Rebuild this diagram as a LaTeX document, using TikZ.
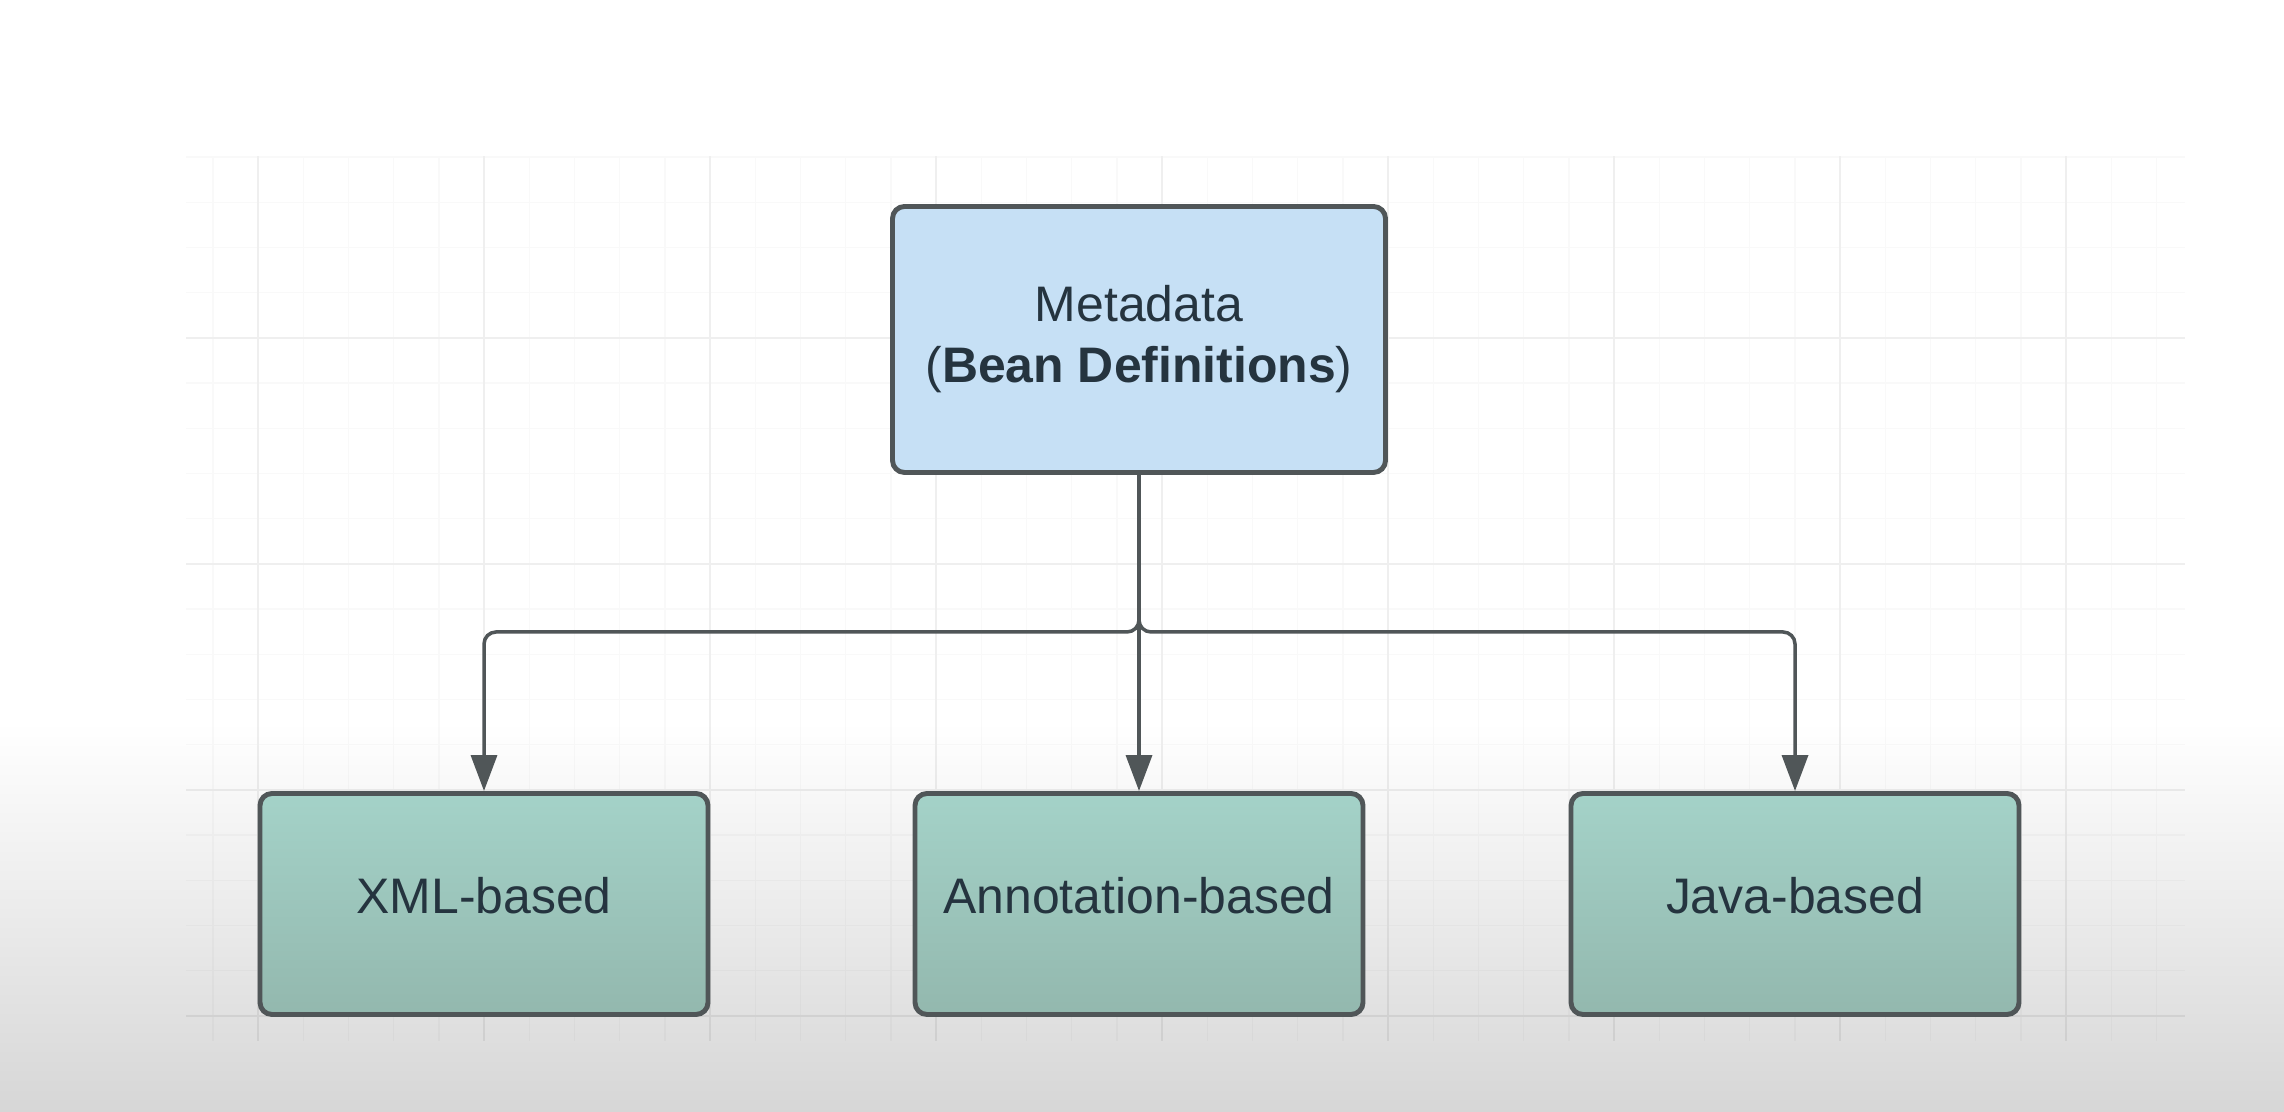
\documentclass[tikz,border=0pt]{standalone}
\usepackage{fontspec}
\setmainfont{Liberation Sans}
\usetikzlibrary{arrows.meta,backgrounds}

\definecolor{metablue}{HTML}{C6E0F5}
\definecolor{tealtop}{HTML}{A4D2C8}
\definecolor{tealbot}{HTML}{93B8AE}
\definecolor{edgegray}{HTML}{505658}
\definecolor{inkdark}{HTML}{25343F}

\tikzset{
  box/.style={draw=edgegray, line width=1.4pt, rounded corners=0.12cm, inner sep=0pt,
    text=inkdark, font=\fontsize{14.2}{17.3}\selectfont},
  metabox/.style={box, align=center, fill=metablue, minimum width=4.93cm, minimum height=2.66cm},
  kindbox/.style={box, top color=tealtop, bottom color=tealbot, text depth=0.18cm,
    minimum width=4.48cm, minimum height=2.21cm},
  link/.style={draw=edgegray, line width=1pt, rounded corners=0.12cm,
    -{Triangle[length=3.6mm,width=2.6mm]}},
}

\begin{document}
\begin{tikzpicture}
    \useasboundingbox (0,0) rectangle (22.84,11.12);
    \fill[white] (0,0) rectangle (22.84,11.12);
    \shade[top color=white, bottom color=black!16] (0,0) rectangle (22.84,3.9);

    % faint canvas grid
    \begin{scope}[shift={(2.58,0.96)}]
      \draw[black, opacity=0.025, line width=0.4pt, step=0.452] (-0.72,-0.25) grid (19.27,8.60);
      \draw[black, opacity=0.04, line width=0.6pt, step=2.26] (-0.72,-0.25) grid (19.27,8.60);
    \end{scope}

    \node[metabox] (meta) at (11.39,7.725) {Metadata\\(\textbf{Bean Definitions})};
    \node[kindbox] (xml) at (4.84,2.08) {XML-based};
    \node[kindbox] (annot) at (11.39,2.08) {Annotation-based};
    \node[kindbox] (java) at (17.95,2.08) {Java-based};

    \coordinate (fork) at (11.39,4.80);
    \draw[link] (meta.south) -- (fork) -| (xml.north);
    \draw[link] (meta.south) -- (fork) -| (java.north);
    \draw[link] (meta.south) -- (annot.north);

\end{tikzpicture}
\end{document}
